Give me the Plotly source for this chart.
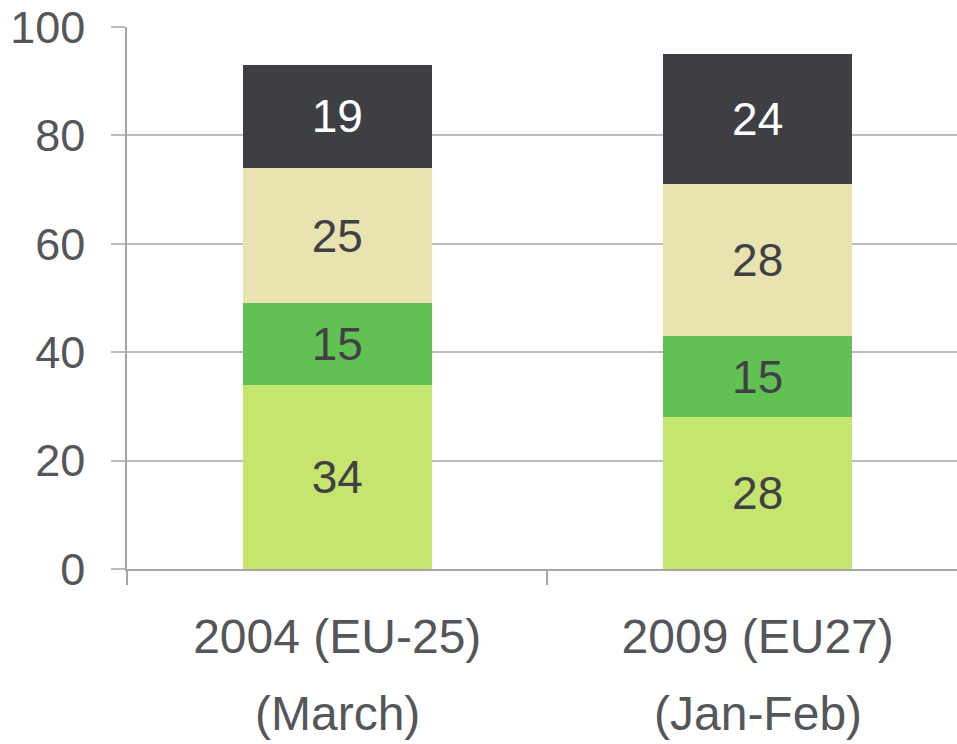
import plotly.graph_objects as go

categories = ["2004 (EU-25)", "2009 (EU27)"]
subtitles = ["(March)", "(Jan-Feb)"]
seg1 = [34, 28]
seg2 = [15, 15]
seg3 = [25, 28]
seg4 = [19, 24]
y_ticks = [0, 20, 40, 60, 80, 100]

FONT = "Liberation Sans, Arial"
series = [
    (seg1, "#C5E56E", "#404045"),
    (seg2, "#62C153", "#404045"),
    (seg3, "#E9E3B1", "#404045"),
    (seg4, "#3E3F43", "#FFFFFF"),
]

fig = go.Figure()
for vals, color, tcolor in series:
    fig.add_trace(go.Bar(
        x=categories, y=vals,
        marker=dict(color=color, line=dict(width=0)),
        text=[str(v) for v in vals],
        textposition="inside",
        insidetextanchor="middle",
        textangle=0,
        textfont=dict(family=FONT, size=46, color=tcolor),
        hoverinfo="skip",
    ))

for cat, sub in zip(categories, subtitles):
    fig.add_annotation(
        x=cat, xref="x", y=-0.266, yref="paper",
        text=sub, showarrow=False,
        xanchor="center", yanchor="middle",
        font=dict(family=FONT, size=48, color="#55565A"),
    )

fig.update_layout(
    barmode="stack",
    bargap=0.55,
    width=957, height=744,
    margin=dict(l=127, r=0, t=27, b=175),
    paper_bgcolor="white", plot_bgcolor="white",
    showlegend=False,
    uniformtext=dict(mode=False),
)
fig.update_xaxes(
    range=[-0.5, 1.474],
    automargin=False,
    tickson="boundaries",
    ticks="outside", ticklen=14, tickcolor="#A6A6A6", tickwidth=1.5,
    showline=True, linecolor="#A6A6A6", linewidth=1.5,
    showgrid=False,
    tickfont=dict(family=FONT, size=48, color="#55565A"),
    ticklabelstandoff=25,
)
fig.update_yaxes(
    range=[0, 100],
    automargin=False,
    tickvals=y_ticks,
    ticks="outside", ticklen=14, tickcolor="#BDBDBD", tickwidth=1.5,
    showline=True, linecolor="#A6A6A6", linewidth=1.5,
    showgrid=True, gridcolor="#BDBDBD", gridwidth=1.5,
    zeroline=False,
    tickfont=dict(family=FONT, size=45, color="#55565A"),
    ticklabelstandoff=17,
)
fig.write_html(
    "out.html",
    config={"displayModeBar": False},
    post_script="document.body.style.margin='0';document.body.style.overflow='hidden';",
)
